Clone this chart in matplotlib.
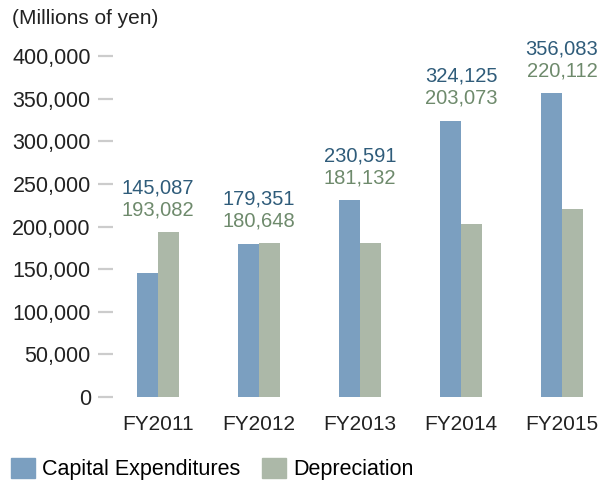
import matplotlib.pyplot as plt
from matplotlib.patches import Patch
import numpy as np

plt.rcParams['font.family'] = ['Liberation Sans', 'DejaVu Sans']

# data
years = ["FY2011", "FY2012", "FY2013", "FY2014", "FY2015"]
capex = [145087, 179351, 230591, 324125, 356083]
depreciation = [193082, 180648, 181132, 203073, 220112]
yticks = [0, 50000, 100000, 150000, 200000, 250000, 300000, 350000, 400000]

capex_color = "#7b9fc0"
dep_color = "#acb8a8"
capex_text = "#2f5c7a"
dep_text = "#6e8a6c"

fig = plt.figure(figsize=(6, 4.8), dpi=100)
ax = fig.add_axes([113 / 600, 83 / 480, 487 / 600, 341 / 480])

x = np.arange(len(years))
w = 0.205
ax.bar(x - w / 2, capex, width=w, color=capex_color)
ax.bar(x + w / 2, depreciation, width=w, color=dep_color)

ax.set_xlim((113 - 158) / 101, (600 - 158) / 101)
ax.set_ylim(0, 400000)

for s in ax.spines.values():
    s.set_visible(False)

ax.set_yticks(yticks)
ax.set_yticklabels([f"{v:,}" for v in yticks])
ax.tick_params(axis="y", length=11, width=1.6, color="#cccccc", pad=5,
               labelsize=15.5, labelcolor="#222222")
ax.set_xticks(x)
ax.set_xticklabels(years)
ax.tick_params(axis="x", length=0, pad=13, labelsize=15, labelcolor="#222222")

# value labels above each group
for i in range(len(years)):
    top = max(capex[i], depreciation[i])
    ax.annotate(f"{depreciation[i]:,}", (x[i], top), xytext=(0, 16),
                textcoords="offset points", ha="center", va="center",
                fontsize=14.5, color=dep_text, annotation_clip=False)
    ax.annotate(f"{capex[i]:,}", (x[i], top), xytext=(0, 32),
                textcoords="offset points", ha="center", va="center",
                fontsize=14.5, color=capex_text, annotation_clip=False)

fig.text(12 / 600, 1 - 19 / 480, "(Millions of yen)", fontsize=15,
         color="#222222", ha="left", va="center")

handles = [Patch(color=capex_color, label="Capital Expenditures"),
           Patch(color=dep_color, label="Depreciation")]
fig.legend(handles=handles, loc="center left", bbox_to_anchor=(11 / 600, 11 / 480),
           ncol=2, frameon=False, fontsize=15.5, handlelength=1.1, handleheight=1.1,
           handletextpad=0.35, columnspacing=1.0, borderpad=0, borderaxespad=0)

plt.savefig("out.png", dpi=100)
